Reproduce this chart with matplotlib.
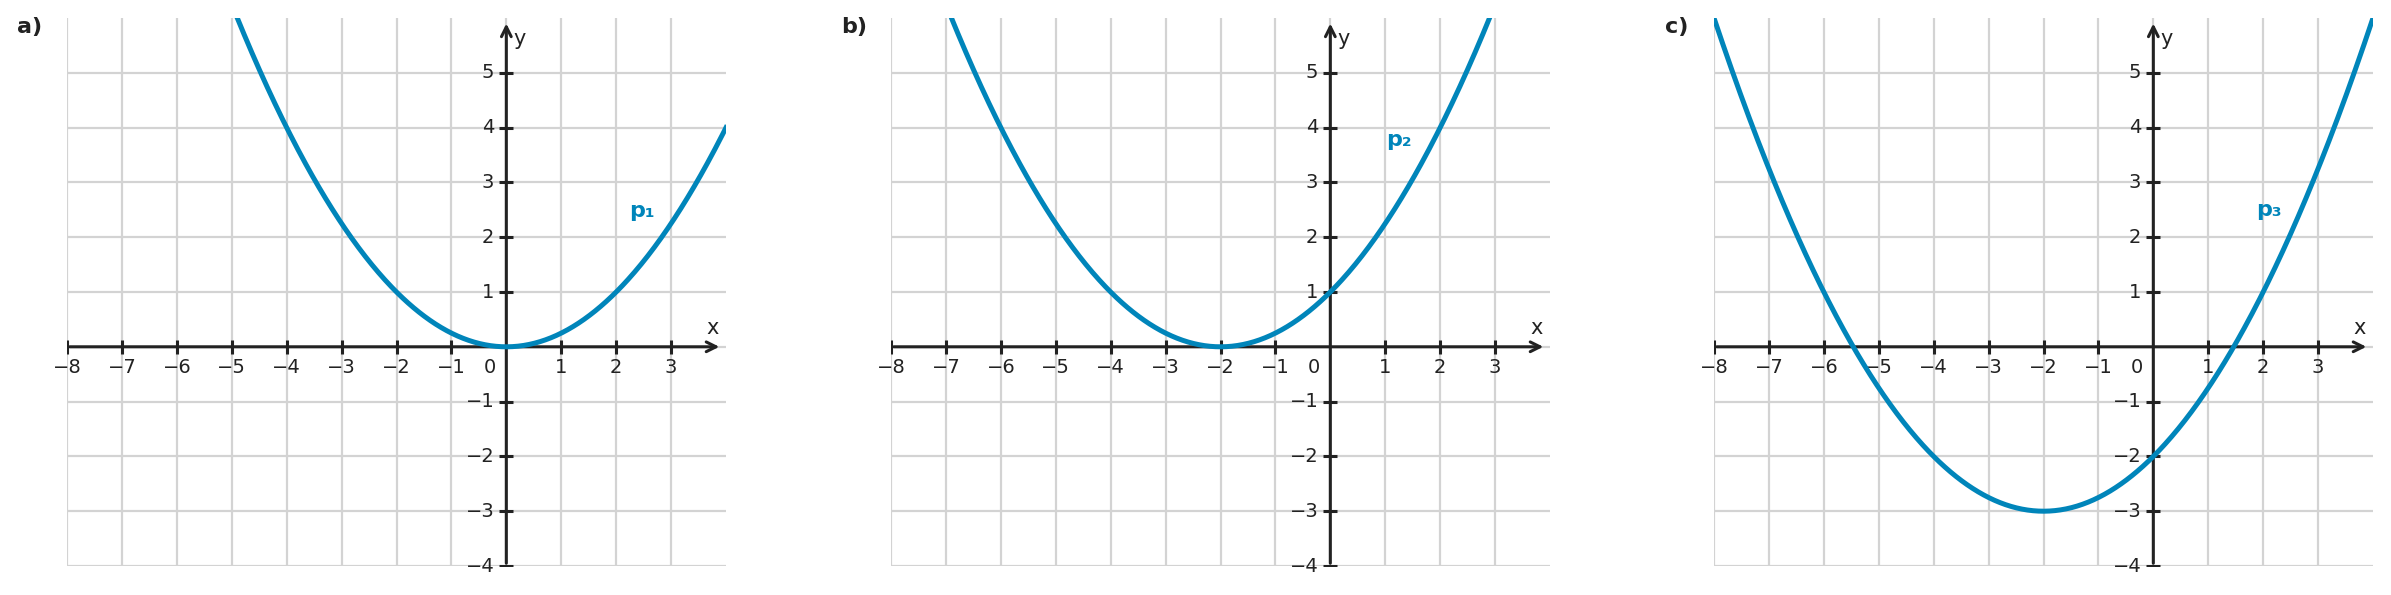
import numpy as np
import matplotlib.pyplot as plt

# Parabolas p(x) = a * (x - h)^2 + k, one per panel
panel_letters = ["a)", "b)", "c)"]
curve_names = ["p₁", "p₂", "p₃"]
coef_a = [0.25, 0.25, 0.25]
vertex_x = [0, -2, -2]
vertex_y = [0, 0, -3]
label_pos = [(2.47, 2.47), (1.25, 3.78), (2.11, 2.5)]

x_ticks = [-8, -7, -6, -5, -4, -3, -2, -1, 1, 2, 3]
y_ticks = [-4, -3, -2, -1, 1, 2, 3, 4, 5]

blue = "#0085BA"
dark = "#222222"
grid_col = "#d3d3d3"

fig = plt.figure(figsize=(23.91, 5.95), dpi=100)
lefts = [67, 891, 1714]

for i in range(3):
    ax = fig.add_axes([lefts[i] / 2391, 29 / 595, 659 / 2391, 548 / 595])
    ax.set_xlim(-8, 4)
    ax.set_ylim(-4, 6)
    ax.axis("off")

    # grid
    for gx in range(-8, 4):
        ax.plot([gx, gx], [-4, 6], color=grid_col, lw=1.6, zorder=1)
    for gy in range(-4, 6):
        ax.plot([-8, 4], [gy, gy], color=grid_col, lw=1.6, zorder=1)

    # axes with arrows
    ax.annotate("", xy=(3.93, 0), xytext=(-8, 0),
                arrowprops=dict(arrowstyle="->,head_length=0.7,head_width=0.35",
                                color=dark, lw=2.2), zorder=3)
    ax.annotate("", xy=(0, 5.95), xytext=(0, -4),
                arrowprops=dict(arrowstyle="->,head_length=0.7,head_width=0.35",
                                color=dark, lw=2.2), zorder=3)
    ax.plot(x_ticks, [0] * len(x_ticks), "|", color=dark, ms=10, mew=2.2, zorder=3)
    ax.plot([0] * len(y_ticks), y_ticks, "_", color=dark, ms=10, mew=2.2, zorder=3)

    for t in x_ticks:
        ax.text(t, -0.2, "−%d" % -t if t < 0 else str(t), ha="center", va="top",
                fontsize=14, color=dark)
    for t in y_ticks:
        ax.text(-0.22, t, "−%d" % -t if t < 0 else str(t), ha="right", va="center",
                fontsize=14, color=dark)
    ax.text(-0.3, -0.2, "0", ha="center", va="top", fontsize=14, color=dark)
    ax.text(3.75, 0.16, "x", ha="center", va="bottom", fontsize=15, color=dark)
    ax.text(0.12, 5.62, "y", ha="left", va="center", fontsize=15, color=dark)

    # curve
    xs = np.linspace(-8, 4, 600)
    ys = coef_a[i] * (xs - vertex_x[i]) ** 2 + vertex_y[i]
    ax.plot(xs, ys, color=blue, lw=3.6, zorder=4, clip_on=True)
    ax.text(label_pos[i][0], label_pos[i][1], curve_names[i], color=blue,
            fontsize=16, fontweight="bold", ha="center", va="center")

    fig.text((lefts[i] - 37) / 2391, 1 - 27 / 595, panel_letters[i],
             fontsize=16, fontweight="bold", color=dark, ha="center", va="center")

fig.savefig("out.png", dpi=100)
